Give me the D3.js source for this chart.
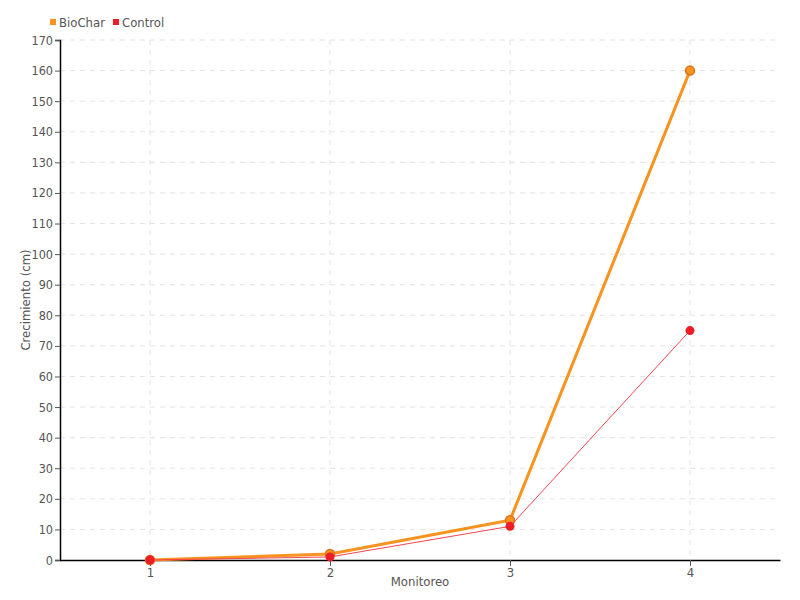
<!DOCTYPE html>
<html><head><meta charset="utf-8">
<script src="https://cdn.jsdelivr.net/npm/d3@7"></script>
<style>body{margin:0;background:#fff;} text{font-family:"DejaVu Sans",sans-serif;font-stretch:condensed;}</style>
</head><body>
<svg id="chart" width="800" height="600"></svg>
<script>
const categories = [1, 2, 3, 4];
const biochar = [0, 2, 13, 160];
const control = [0, 1, 11, 75];
const yTicks = d3.range(0, 171, 10);
const seriesNames = ["BioChar", "Control"];
const seriesColors = ["#f7931e", "#ee1c25"];

const svg = d3.select("#chart");
const m = {l: 60, r: 20, t: 40, b: 40};
const W = 800, H = 600;
const x = d3.scaleLinear().domain([0.5, 4.5]).range([m.l, W - m.r]);
const y = d3.scaleLinear().domain([0, 170]).range([H - m.b, m.t]);

// grid
const g = svg.append("g");
g.selectAll(".hg").data(yTicks.filter(d => d > 0)).enter().append("line")
  .attr("x1", m.l).attr("x2", W - m.r).attr("y1", d => y(d)).attr("y2", d => y(d))
  .attr("stroke", "#e3e3e3").attr("stroke-dasharray", "5,5");
g.selectAll(".vg").data(categories).enter().append("line")
  .attr("y1", m.t).attr("y2", H - m.b).attr("x1", d => x(d)).attr("x2", d => x(d))
  .attr("stroke", "#e3e3e3").attr("stroke-dasharray", "5,5");

// axes
const ya = svg.append("g").attr("transform", `translate(${m.l},0)`)
  .call(d3.axisLeft(y).tickValues(yTicks).tickSize(5).tickPadding(2));
ya.select(".domain").attr("stroke", "#000").attr("stroke-width", 1.5);
ya.selectAll(".tick line").attr("stroke", "#555");
ya.selectAll("text").attr("fill", "#555").style("font-size", "12.5px");

const xa = svg.append("g").attr("transform", `translate(0,${H - m.b})`)
  .call(d3.axisBottom(x).tickValues(categories).tickFormat(d3.format("d")).tickSize(6).tickPadding(2).tickSizeOuter(0));
xa.select(".domain").attr("stroke", "#000").attr("stroke-width", 1.5);
xa.selectAll(".tick line").attr("stroke", "#555");
xa.selectAll("text").attr("fill", "#555").style("font-size", "13px");

svg.append("text").attr("x", (m.l + W - m.r) / 2).attr("y", 586).attr("text-anchor", "middle")
  .attr("fill", "#555").style("font-size", "13px").text("Monitoreo");
svg.append("text").attr("transform", `translate(30,${(m.t + H - m.b) / 2}) rotate(-90)`)
  .attr("text-anchor", "middle").attr("fill", "#555").style("font-size", "13px").text("Crecimiento (cm)");

const line = d3.line().x((d, i) => x(categories[i])).y(d => y(d));

// BioChar
svg.append("path").datum(biochar).attr("d", line).attr("fill", "none")
  .attr("stroke", "#f7931e").attr("stroke-width", 3);
svg.selectAll(".pb").data(biochar).enter().append("circle")
  .attr("cx", (d, i) => x(categories[i])).attr("cy", d => y(d)).attr("r", 4.5)
  .attr("fill", "#f7931e").attr("stroke", "#d9731a").attr("stroke-width", 1.5);
// Control
svg.append("path").datum(control).attr("d", line).attr("fill", "none")
  .attr("stroke", "#f5444f").attr("stroke-width", 1);
svg.selectAll(".pc").data(control).enter().append("circle")
  .attr("cx", (d, i) => x(categories[i])).attr("cy", d => y(d)).attr("r", 4.5)
  .attr("fill", "#ee1c25");

// legend
const lg = svg.append("g");
let lx = 50;
seriesNames.forEach((n, i) => {
  lg.append("rect").attr("x", lx).attr("y", 19).attr("width", 6).attr("height", 6).attr("fill", seriesColors[i]);
  const t = lg.append("text").attr("x", lx + 9).attr("y", 27).attr("fill", "#555").style("font-size", "13px").text(n);
  lx += 9 + t.node().getComputedTextLength() + 8;
});
</script>
</body></html>
